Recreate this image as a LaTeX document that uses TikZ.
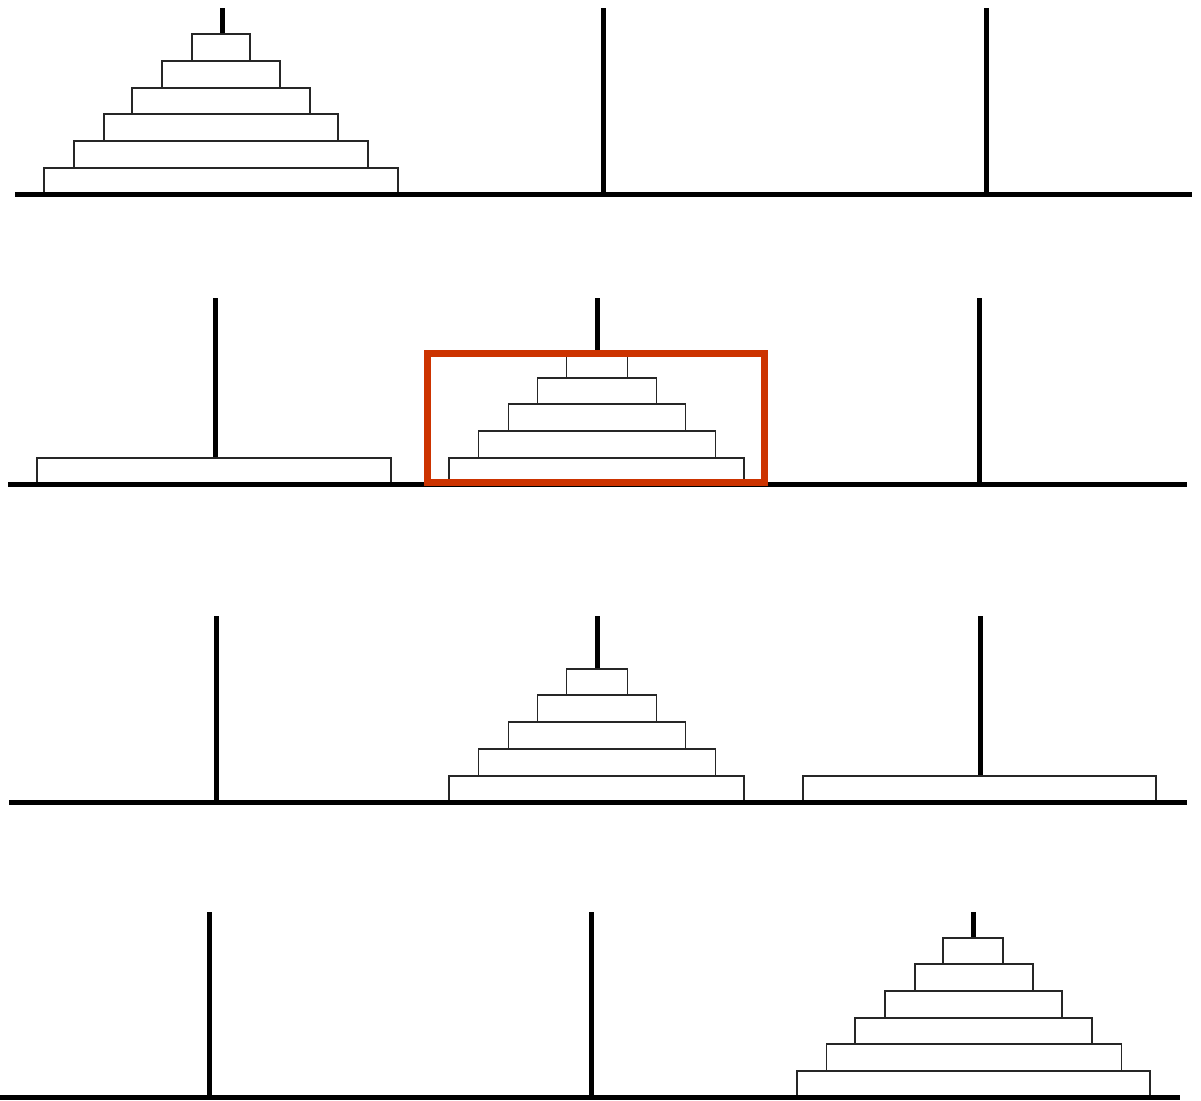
\documentclass[tikz,border=0pt]{standalone}
\definecolor{hred}{HTML}{CC3300}
\begin{document}
\begin{tikzpicture}[x=1pt,y=-1pt,
  pegline/.style={line width=5pt,black},
  baseline/.style={line width=5pt,black},
  diskbox/.style={draw=black!85,fill=white,line width=1.8pt},
  highlight/.style={draw=hred,line width=7pt}]
\useasboundingbox (0,0) rectangle (1201,1100);
\newcommand\hdisk[4]{\draw[diskbox] (#1-#4,#2) rectangle (#1+#4,#3);}
% ---------- Row 1 ----------
\foreach \px in {222,603,986} \draw[pegline] (\px,8) -- (\px,194);
\hdisk{221}{194}{168}{177}
\hdisk{221}{168}{141}{147}
\hdisk{221}{141}{114}{117}
\hdisk{221}{114}{88}{89}
\hdisk{221}{88}{61}{59}
\hdisk{221}{61}{34}{29}
\draw[baseline] (15,194.5) -- (1192,194.5);
% ---------- Row 2 ----------
\foreach \px in {215,597,979} \draw[pegline] (\px,298) -- (\px,484);
\hdisk{214}{484}{458}{177}
\hdisk{596.5}{484}{458}{147.5}
\hdisk{597}{458}{431}{118.5}
\hdisk{597}{431}{404}{88.5}
\hdisk{597}{404}{378}{59.5}
\hdisk{597}{378}{351}{30.5}
\draw[baseline] (8,484) -- (1187,484);
\draw[highlight] (427.5,353.5) rectangle (764.5,482.5);
% ---------- Row 3 ----------
\foreach \px in {216,597,980} \draw[pegline] (\px,616) -- (\px,802);
\hdisk{979.5}{802}{776}{176.5}
\hdisk{596.5}{802}{776}{147.5}
\hdisk{597}{776}{749}{118.5}
\hdisk{597}{749}{722}{88.5}
\hdisk{597}{722}{695}{59.5}
\hdisk{597}{695}{669}{30.5}
\draw[baseline] (9,802) -- (1187,802);
% ---------- Row 4 ----------
\foreach \px in {209,591,973} \draw[pegline] (\px,912) -- (\px,1097);
\hdisk{973.5}{1097}{1071}{176.5}
\hdisk{974}{1071}{1044}{147.5}
\hdisk{973.5}{1044}{1018}{118.5}
\hdisk{973.5}{1018}{991}{88.5}
\hdisk{974}{991}{964}{59}
\hdisk{973}{964}{938}{30}
\draw[baseline] (0,1097.5) -- (1180,1097.5);
\end{tikzpicture}
\end{document}
